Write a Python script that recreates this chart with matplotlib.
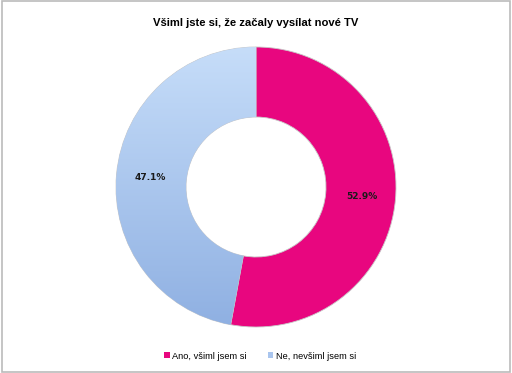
import numpy as np
import matplotlib
matplotlib.use("Agg")
from matplotlib import pyplot as plt
from matplotlib.colors import LinearSegmentedColormap
from matplotlib.patches import Rectangle

title = "Všiml jste si, že začaly vysílat nové TV"
labels = ["Ano, všiml jsem si", "Ne, nevšiml jsem si"]
values = [52.9, 47.1]
colors = ["#E8067F", "#A9C5EE"]

fig = plt.figure(figsize=(5.12, 3.73), dpi=100)
fig.patch.set_facecolor("white")

# chart frame
fig.patches.append(Rectangle((0.004, 0.004), 0.992, 0.992, transform=fig.transFigure,
                             fill=False, edgecolor="#BBBBBB", linewidth=1.2))

W, H = 512, 373
cx, cy, r = 256, 187, 140
ax = fig.add_axes([(cx - r) / W, (H - cy - r) / H, 2 * r / W, 2 * r / H])

wedges, texts, autotexts = ax.pie(values, colors=colors, startangle=90, counterclock=False,
                                  radius=1.0, autopct="%.1f%%", pctdistance=0.76,
                                  wedgeprops=dict(width=0.5, edgecolor="#C8C8C8", linewidth=0.6),
                                  textprops=dict(fontsize=6.5, fontweight="bold", color="#1a1a1a"))
ax.set_xlim(-1.0, 1.0)
ax.set_ylim(-1.0, 1.0)
ax.set_aspect("equal")
ax.axis("off")

# light-to-darker blue gradient on the second slice
grad = LinearSegmentedColormap.from_list("b", ["#8FB0E2", "#C6DDF9"])
img = ax.imshow(np.linspace(0, 1, 256).reshape(-1, 1), cmap=grad, origin="lower",
                extent=[-1, 1, -1, 1], aspect="auto", zorder=wedges[1].get_zorder() + 0.1)
img.set_clip_path(wedges[1])
for t in autotexts:
    t.set_zorder(5)

fig.text(0.5, 0.938, title, ha="center", va="center", fontsize=8.1, fontweight="bold",
         family="Liberation Sans")

handles = [Rectangle((0, 0), 1, 1, facecolor=colors[0]),
           Rectangle((0, 0), 1, 1, facecolor="#A9C5EE")]
fig.legend(handles, labels, loc="center", bbox_to_anchor=(0.508, 0.045), ncol=2, frameon=False,
           handlelength=0.6, handleheight=0.6, handletextpad=0.3, columnspacing=2.2,
           prop=dict(family="Liberation Sans", size=6.7))

fig.savefig("out.png", dpi=100)
